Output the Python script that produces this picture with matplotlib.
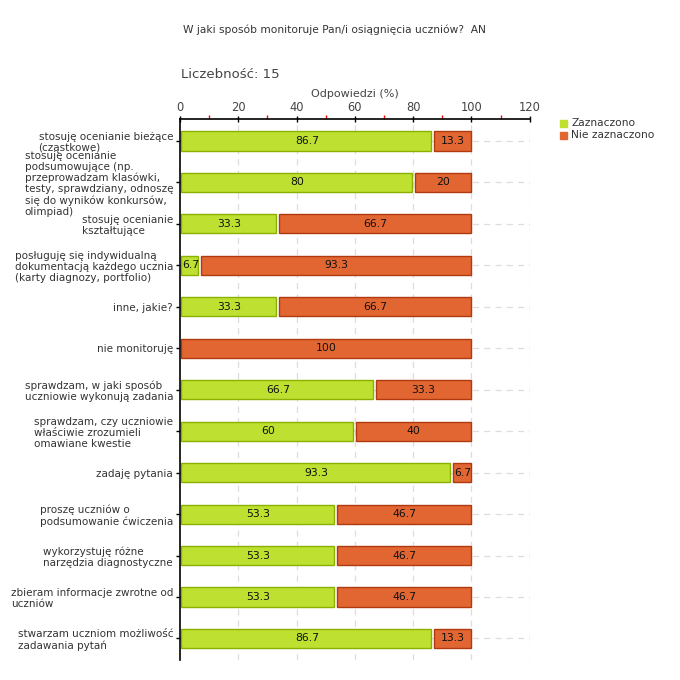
#!/usr/bin/env python3

import numpy as np
import matplotlib
matplotlib.use("Agg")
import matplotlib.pyplot as plt

plt.rcParams['font.family'] = ['DejaVu Sans']

categories = [
    "stosuję ocenianie bieżące\n(cząstkowe)",
    "stosuję ocenianie\npodsumowujące (np.\nprzeprowadzam klasówki,\ntesty, sprawdziany, odnoszę\nsię do wyników konkursów,\nolimpiad)",
    "stosuję ocenianie\nkształtujące",
    "posługuję się indywidualną\ndokumentacją każdego ucznia\n(karty diagnozy, portfolio)",
    "inne, jakie?",
    "nie monitoruję",
    "sprawdzam, w jaki sposób\nuczniowie wykonują zadania",
    "sprawdzam, czy uczniowie\nwłaściwie zrozumieli\nomawiane kwestie",
    "zadaję pytania",
    "proszę uczniów o\npodsumowanie ćwiczenia",
    "wykorzystuję różne\nnarzędzia diagnostyczne",
    "zbieram informacje zwrotne od\nuczniów",
    "stwarzam uczniom możliwość\nzadawania pytań",
]
zaznaczono = [86.7, 80, 33.3, 6.7, 33.3, 0, 66.7, 60, 93.3, 53.3, 53.3, 53.3, 86.7]
nie_zaznaczono = [13.3, 20, 66.7, 93.3, 66.7, 100, 33.3, 40, 6.7, 46.7, 46.7, 46.7, 13.3]
series_names = ["Zaznaczono", "Nie zaznaczono"]

green, green_edge = '#bee030', '#8cb000'
orange, orange_edge = '#e26632', '#b03a10'
gap = 0.5

fig = plt.figure(figsize=(6.8, 6.8), dpi=100)
ax = fig.add_axes([0.2647, 0.0294, 0.5143, 0.7956])

y = np.arange(len(categories))
h = 0.46

# grid
for gx in range(20, 121, 20):
    ax.axvline(gx, color='#dddddd', ls=(0, (5, 4)), lw=0.9, zorder=0)
for gy in y:
    ax.axhline(gy, color='#dddddd', ls=(0, (5, 4)), lw=0.9, zorder=0)

for i in range(len(categories)):
    z = zaznaczono[i]
    n = nie_zaznaczono[i]
    if z > 0:
        ax.barh(y[i], z - 2 * gap, left=gap, height=h, color=green,
                edgecolor=green_edge, lw=1, zorder=2)
        ax.text(z / 2 + gap / 2, y[i], f"{z:g}", ha='center', va='center',
                fontsize=7.8, color='#111111', zorder=3)
    if n > 0:
        left = z + gap if z > 0 else gap
        ax.barh(y[i], z + n - left, left=left, height=h, color=orange,
                edgecolor=orange_edge, lw=1, zorder=2)
        ax.text((left + z + n) / 2, y[i], f"{n:g}", ha='center', va='center',
                fontsize=7.8, color='#111111', zorder=3)

ax.set_xlim(0, 120)
ax.set_ylim(len(categories) - 0.48, -0.53)

ax.xaxis.tick_top()
ax.xaxis.set_label_position('top')
ax.set_xticks(range(0, 121, 20))
ax.set_xticks(range(10, 120, 20), minor=True)
ax.tick_params(axis='x', which='major', length=5, width=1, color='black',
               labelsize=8.3, labelcolor='#444444', pad=1, direction='inout')
ax.tick_params(axis='x', which='minor', length=3, width=1, color='red',
               direction='out')
ax.set_xlabel("Odpowiedzi (%)", fontsize=8, color='#444444', labelpad=3)

ax.set_yticks(y)
ax.set_yticklabels(categories, fontsize=7.5, color='#333333',
                   multialignment='left', linespacing=1.12)
ax.tick_params(axis='y', length=3, width=1, color='black', pad=2)

for s in ['right', 'bottom']:
    ax.spines[s].set_visible(False)
ax.spines['top'].set_linewidth(1.2)
ax.spines['left'].set_linewidth(1.2)

fig.text(183 / 680, 1 - 30 / 680, "W jaki sposób monitoruje Pan/i osiągnięcia uczniów?  AN",
         fontsize=7.7, color='#333333', va='center', ha='left')
fig.text(181 / 680, 1 - 75 / 680, "Liczebność: 15", fontsize=9.5,
         color='#444444', va='center', ha='left')

# legend
for k, (name, c) in enumerate(zip(series_names, [green, orange])):
    yy = 1 - (123 + 12 * k) / 680
    fig.patches.append(plt.Rectangle((560 / 680, yy - 3.5 / 680), 7 / 680, 7 / 680,
                                     transform=fig.transFigure, color=c))
    fig.text(571 / 680, yy, name, fontsize=7.7, color='#333333', va='center')

fig.savefig("out.png", dpi=100)
